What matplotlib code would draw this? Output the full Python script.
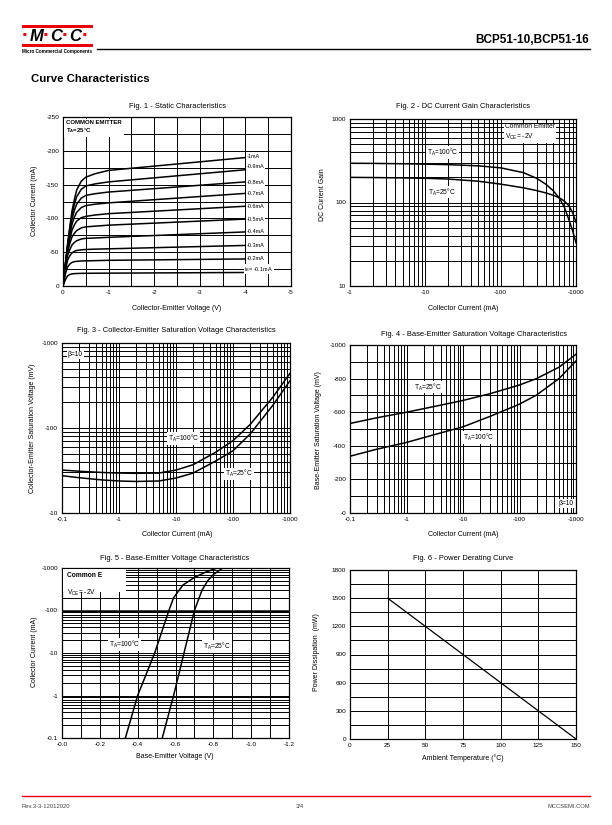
import matplotlib
matplotlib.use('Agg')
import matplotlib.pyplot as plt
import numpy as np
from matplotlib.ticker import FixedLocator, FixedFormatter, NullFormatter, LogLocator, MultipleLocator
from matplotlib.patches import Rectangle
from matplotlib.lines import Line2D

plt.rcParams['font.family'] = ['Liberation Sans', 'DejaVu Sans']
plt.rcParams['axes.unicode_minus'] = False
plt.rcParams['mathtext.fontset'] = 'custom'
plt.rcParams['mathtext.rm'] = 'Liberation Sans'
plt.rcParams['mathtext.it'] = 'Liberation Sans:italic'
plt.rcParams['mathtext.bf'] = 'Liberation Sans:bold'
plt.rcParams['mathtext.default'] = 'regular'

# ---------------- data ----------------
# Fig 1 - static characteristics (Vce in V, Ic in mA)
fig1_vce = [0, -0.05, -0.1, -0.15, -0.2, -0.25, -0.3, -0.4, -0.5, -0.7, -1.0, -4.0]
fig1_ic = [
    [0, -32, -62, -88, -112, -128, -142, -155, -161, -166, -171, -190],
    [0, -31, -60, -85, -106, -121, -132, -143, -148, -151, -154, -172],
    [0, -30, -58, -81, -100, -112, -121, -130, -134, -136.5, -139, -154],
    [0, -29, -56, -76, -92, -102, -109, -116, -119, -121, -123, -137],
    [0, -28, -54, -70, -83, -90.5, -96, -101, -103, -105, -107, -118],
    [0, -27, -50, -63, -73, -78, -82, -86, -87.5, -88.5, -90, -99],
    [0, -25, -45, -54, -61, -64.5, -67, -69.5, -70.5, -71, -72, -80],
    [0, -22, -38, -45, -49, -51.5, -52.5, -53.5, -54, -54.5, -55, -60],
    [0, -17, -28, -32.5, -35, -36, -36.5, -37, -37.2, -37.5, -38, -40],
    [0, -9, -15, -17, -18, -18.3, -18.5, -18.7, -18.8, -18.9, -19, -20],
]
fig1_labels = ['-1mA', '-0.9mA', '-0.8mA', '-0.7mA', '-0.6mA', '-0.5mA',
               '-0.4mA', '-0.3mA', '-0.2mA', r'I$_B$= -0.1mA']
fig1_label_y = [-192, -177, -153, -137, -118, -99, -80, -60, -40, -25]
fig1_xticks = [0, -1, -2, -3, -4, -5]
fig1_yticks = [0, -50, -100, -150, -200, -250]

# Fig 2 - DC current gain (Ic in mA, magnitude)
fig2_ic = [1, 2, 5, 10, 20, 50, 100, 200, 300, 400, 500, 600, 700, 800, 900, 1000]
fig2_h100 = [295, 294, 291, 288, 284, 275, 260, 228, 195, 165, 138, 113, 88, 63, 46, 33]
fig2_h25 = [200, 199, 197, 195, 191, 180, 166, 150, 139, 130, 122, 114, 104, 92, 76, 58]
fig2_xticks = [1, 10, 100, 1000]
fig2_xlabels = ['-1', '-10', '-100', '-1000']
fig2_yticks = [10, 100, 1000]
fig2_ylabels = ['10', '100', '1000']

# Fig 3 - Vce(sat) (Ic in mA, Vce in mV, magnitudes)
fig3_ic = [0.1, 0.2, 0.5, 1, 2, 5, 10, 20, 50, 100, 200, 500, 1000]
fig3_v100 = [32, 31, 30, 29.5, 29.3, 29.5, 32, 37, 52, 71, 110, 230, 440]
fig3_v25 = [27.5, 26, 24.5, 23.8, 23.5, 23.8, 25.8, 29.5, 41, 54, 85, 185, 360]
fig3_xticks = [0.1, 1, 10, 100, 1000]
fig3_xlabels = ['-0.1', '-1', '-10', '-100', '-1000']
fig3_yticks = [10, 100, 1000]
fig3_ylabels = ['-10', '-100', '-1000']

# Fig 4 - Vbe(sat)
fig4_ic = [0.1, 0.3, 1, 3, 10, 30, 100, 200, 500, 1000]
fig4_v25 = [533, 567, 600, 633, 670, 710, 762, 800, 868, 945]
fig4_v100 = [338, 380, 420, 465, 513, 575, 648, 702, 800, 905]
fig4_yticks = [0, 200, 400, 600, 800, 1000]
fig4_ylabels = ['-0', '-200', '-400', '-600', '-800', '-1000']

# Fig 5 - Vbe vs Ic
fig5_ic100 = [0.1, 1, 10, 100, 200, 400, 600, 800, 1000]
fig5_vbe100 = [0.335, 0.40, 0.49, 0.565, 0.59, 0.64, 0.70, 0.76, 0.82]
fig5_ic25 = [0.1, 1, 10, 100, 300, 500, 700, 1000]
fig5_vbe25 = [0.53, 0.59, 0.645, 0.70, 0.74, 0.77, 0.80, 0.85]
fig5_xticks = [0, 0.2, 0.4, 0.6, 0.8, 1.0, 1.2]
fig5_xlabels = ['-0.0', '-0.2', '-0.4', '-0.6', '-0.8', '-1.0', '-1.2']
fig5_yticks = [0.1, 1, 10, 100, 1000]
fig5_ylabels = ['-0.1', '-1', '-10', '-100', '-1000']

# Fig 6 - power derating
fig6_temp = [25, 150]
fig6_power = [1500, 0]
fig6_xticks = [0, 25, 50, 75, 100, 125, 150]
fig6_yticks = [0, 300, 600, 900, 1200, 1500, 1800]

# ---------------- figure ----------------
W, H = 612, 825
fig = plt.figure(figsize=(W / 100, H / 100), dpi=100)
RED = '#e8000b'


def rect(x0, y0, x1, y1):
    return [x0 / W, 1 - y1 / H, (x1 - x0) / W, (y1 - y0) / H]


def ftext(x, y, s, **kw):
    kw.setdefault('va', 'center')
    return fig.text(x / W, 1 - y / H, s, **kw)


TICK = 4.6
LAB = 5.0
TIT = 5.4
ANN = 4.8
BOX = dict(facecolor='white', edgecolor='none', pad=0.6)


def style(ax):
    for s in ax.spines.values():
        s.set_linewidth(0.9)
        s.set_color('black')
        s.set_zorder(6)
    ax.tick_params(which='both', length=0, labelsize=TICK, pad=2.8, colors='black')
    ax.grid(True, which='both', color='black', lw=0.7)
    ax.set_axisbelow(True)


def set_fixed(axis, ticks, labels):
    axis.set_major_locator(FixedLocator(ticks))
    axis.set_major_formatter(FixedFormatter(labels))


def log_minor(axis):
    axis.set_minor_locator(LogLocator(base=10, subs=np.arange(2, 10), numticks=20))
    axis.set_minor_formatter(NullFormatter())


def ann(ax, x, y, s, ha='left', va='center', size=ANN, **kw):
    ax.text(x, y, s, transform=ax.transAxes, ha=ha, va=va, fontsize=size,
            bbox=BOX, zorder=7, **kw)


LW = 1.1

# ---- Fig 1 ----
ax1 = fig.add_axes(rect(63, 117, 291, 286))
for ic in fig1_ic:
    ax1.plot(fig1_vce, ic, color='black', lw=LW, zorder=3)
ax1.set_xlim(0, -5)
ax1.set_ylim(0, -250)
set_fixed(ax1.xaxis, fig1_xticks, [str(v) for v in fig1_xticks])
set_fixed(ax1.yaxis, fig1_yticks, [str(v) for v in fig1_yticks])
ax1.xaxis.set_minor_locator(MultipleLocator(0.5))
ax1.yaxis.set_minor_locator(MultipleLocator(25))
style(ax1)
for lab, yv in zip(fig1_labels, fig1_label_y):
    xv = -4.03 if not lab.startswith('I') else -3.98
    ax1.text(xv, yv, lab, ha='left', va='center', fontsize=4.0,
             bbox=dict(facecolor='white', edgecolor='none', pad=0.4), zorder=7)
ax1.text(0.012, 0.985, 'COMMON EMITTER\n' + r'T$_A$=25°C', transform=ax1.transAxes,
         ha='left', va='top', fontsize=4.3, fontweight='bold', linespacing=1.3,
         bbox=dict(facecolor='white', edgecolor='none', pad=1.6), zorder=7)
ftext(177, 106, 'Fig. 1 - Static Characteristics', ha='center', fontsize=TIT)
ftext(177, 309, 'Collector-Emitter Voltage (V)', ha='center', fontsize=LAB)
ftext(34, 201, 'Collector Current (mA)', ha='center', rotation=90, fontsize=LAB)

# ---- Fig 2 ----
ax2 = fig.add_axes(rect(350, 119, 576, 286))
ax2.plot(fig2_ic, fig2_h100, color='black', lw=LW, zorder=3)
ax2.plot(fig2_ic, fig2_h25, color='black', lw=LW, zorder=3)
ax2.set_xscale('log')
ax2.set_yscale('log')
ax2.set_xlim(1, 1000)
ax2.set_ylim(10, 1000)
set_fixed(ax2.xaxis, fig2_xticks, fig2_xlabels)
set_fixed(ax2.yaxis, fig2_yticks, fig2_ylabels)
log_minor(ax2.xaxis)
log_minor(ax2.yaxis)
style(ax2)
ann(ax2, 0.34, 0.80, r'T$_A$=100°C')
ann(ax2, 0.345, 0.563, r'T$_A$=25°C')
ax2.text(0.686, 0.975, 'Common Emitter\n' + r'V$_{CE}$= -2V', transform=ax2.transAxes,
         ha='left', va='top', fontsize=ANN, linespacing=1.25, bbox=BOX, zorder=7)
ftext(463, 107, 'Fig. 2 - DC Current Gain Characteristics', ha='center', fontsize=TIT)
ftext(463, 308, 'Collector Current (mA)', ha='center', fontsize=LAB)
ftext(322, 195, 'DC Current Gain', ha='center', rotation=90, fontsize=LAB)

# ---- Fig 3 ----
ax3 = fig.add_axes(rect(62, 343, 290, 513))
ax3.plot(fig3_ic, fig3_v100, color='black', lw=LW, zorder=3)
ax3.plot(fig3_ic, fig3_v25, color='black', lw=LW, zorder=3)
ax3.set_xscale('log')
ax3.set_yscale('log')
ax3.set_xlim(0.1, 1000)
ax3.set_ylim(10, 1000)
set_fixed(ax3.xaxis, fig3_xticks, fig3_xlabels)
set_fixed(ax3.yaxis, fig3_yticks, fig3_ylabels)
log_minor(ax3.xaxis)
log_minor(ax3.yaxis)
style(ax3)
ann(ax3, 0.025, 0.93, 'β=10')
ann(ax3, 0.465, 0.44, r'T$_A$=100°C')
ann(ax3, 0.715, 0.23, r'T$_A$=25°C')
ftext(176, 331, 'Fig. 3 - Collector-Emitter Saturation Voltage Characteristics',
      ha='center', fontsize=TIT)
ftext(177, 535, 'Collector Current (mA)', ha='center', fontsize=LAB)
ftext(33, 428, 'Collector-Emitter Saturation Voltage (mV)', ha='center',
      rotation=90, fontsize=LAB)

# ---- Fig 4 ----
ax4 = fig.add_axes(rect(350, 345, 576, 513))
ax4.plot(fig4_ic, fig4_v25, color='black', lw=LW, zorder=3)
ax4.plot(fig4_ic, fig4_v100, color='black', lw=LW, zorder=3)
ax4.set_xscale('log')
ax4.set_xlim(0.1, 1000)
ax4.set_ylim(0, 1000)
set_fixed(ax4.xaxis, fig3_xticks, fig3_xlabels)
log_minor(ax4.xaxis)
set_fixed(ax4.yaxis, fig4_yticks, fig4_ylabels)
ax4.yaxis.set_minor_locator(MultipleLocator(100))
style(ax4)
ann(ax4, 0.284, 0.75, r'T$_A$=25°C')
ann(ax4, 0.50, 0.45, r'T$_A$=100°C')
ann(ax4, 0.99, 0.055, 'β=10', ha='right')
ftext(474, 335, 'Fig. 4 - Base-Emitter Saturation Voltage Characteristics',
      ha='center', fontsize=TIT)
ftext(463, 535, 'Collector Current (mA)', ha='center', fontsize=LAB)
ftext(318, 430, 'Base-Emitter Saturation Voltage (mV)', ha='center',
      rotation=90, fontsize=LAB)

# ---- Fig 5 ----
ax5 = fig.add_axes(rect(62, 568, 289, 738))
ax5.plot(fig5_vbe100, fig5_ic100, color='black', lw=LW, zorder=3)
ax5.plot(fig5_vbe25, fig5_ic25, color='black', lw=LW, zorder=3)
ax5.set_yscale('log')
ax5.set_xlim(0, 1.2)
ax5.set_ylim(0.1, 1000)
set_fixed(ax5.xaxis, fig5_xticks, fig5_xlabels)
ax5.xaxis.set_minor_locator(MultipleLocator(0.1))
set_fixed(ax5.yaxis, fig5_yticks, fig5_ylabels)
log_minor(ax5.yaxis)
style(ax5)
ax5.axhline(100, color='black', lw=1.8, zorder=2)
ax5.text(0.02, 0.975, 'Common E', transform=ax5.transAxes, ha='left', va='top',
         fontsize=ANN, fontweight='bold', zorder=8)
ax5.text(0.02, 0.885, r'V$_{CE}$= -2V', transform=ax5.transAxes, ha='left', va='top',
         fontsize=ANN, zorder=8)
ax5.add_patch(Rectangle((0.005, 0.86), 0.275, 0.135, transform=ax5.transAxes,
                        facecolor='white', edgecolor='none', zorder=7))
ann(ax5, 0.205, 0.55, r'T$_A$=100°C')
ann(ax5, 0.622, 0.536, r'T$_A$=25°C')
ftext(175, 558, 'Fig. 5 - Base-Emitter Voltage Characteristics', ha='center', fontsize=TIT)
ftext(175, 757, 'Base-Emitter Voltage (V)', ha='center', fontsize=LAB)
ftext(34, 652, 'Collector Current (mA)', ha='center', rotation=90, fontsize=LAB)

# ---- Fig 6 ----
ax6 = fig.add_axes(rect(350, 570, 576, 739))
ax6.plot(fig6_temp, fig6_power, color='black', lw=0.9, zorder=3)
ax6.set_xlim(0, 150)
ax6.set_ylim(0, 1800)
set_fixed(ax6.xaxis, fig6_xticks, [str(v) for v in fig6_xticks])
set_fixed(ax6.yaxis, fig6_yticks, [str(v) for v in fig6_yticks])
ax6.yaxis.set_minor_locator(MultipleLocator(150))
style(ax6)
ftext(463, 559, 'Fig. 6 - Power Derating Curve', ha='center', fontsize=TIT)
ftext(463, 758, 'Ambient Temperature (°C)', ha='center', fontsize=LAB)
ftext(316, 652, 'Power Dissipation  (mW)', ha='center', rotation=90, fontsize=LAB)

# ---------------- header / footer ----------------
fig.add_artist(Rectangle((22 / W, 1 - 27.5 / H), 71 / W, 2.6 / H, transform=fig.transFigure,
                         facecolor=RED, edgecolor='none'))
fig.add_artist(Rectangle((22 / W, 1 - 46.5 / H), 71 / W, 2.6 / H, transform=fig.transFigure,
                         facecolor=RED, edgecolor='none'))
for xd in [25, 46, 65, 85]:
    ftext(xd, 36, '·', ha='center', fontsize=15, fontweight='bold', color=RED)
for xl, ch in [(36.5, 'M'), (56, 'C'), (75.5, 'C')]:
    ftext(xl, 36.5, ch, ha='center', fontsize=12, fontweight='bold', style='italic',
          color='black')
ftext(22, 51, 'Micro Commercial Components', ha='left', fontsize=3.3, fontweight='bold')
fig.add_artist(Line2D([97 / W, 590 / W], [1 - 49 / H, 1 - 49 / H], transform=fig.transFigure,
                      color='black', lw=1.0))
ftext(589, 40, 'BCP51-10,BCP51-16', ha='right', fontsize=8.5, fontweight='bold')
ftext(31, 79, 'Curve Characteristics', ha='left', fontsize=8.2, fontweight='bold')

fig.add_artist(Line2D([22 / W, 590 / W], [1 - 796 / H, 1 - 796 / H], transform=fig.transFigure,
                      color=RED, lw=1.0))
ftext(22, 806, 'Rev.3-3-12012020', ha='left', fontsize=4.2, color='#444444')
ftext(300, 806, '3/4', ha='center', fontsize=4.2, color='#444444')
ftext(590, 806, 'MCCSEMI.COM', ha='right', fontsize=4.2, color='#444444')

fig.savefig('out.png', dpi=100)
